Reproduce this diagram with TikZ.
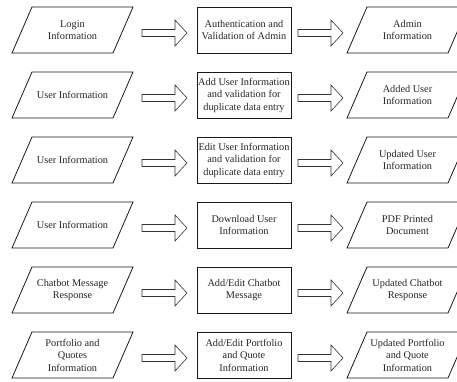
\documentclass[tikz,border=0pt]{standalone}
\usepackage{fontspec}
\setmainfont{Liberation Serif}
\usetikzlibrary{calc}
\tikzset{
  x=1pt, y=-1pt,
  lbl/.style={align=center, font=\fontsize{10.3}{12.5}\selectfont, text=black!85, inner sep=0pt},
  shp/.style={draw=black!90, line width=0.8pt, line join=miter},
  blk/.style={draw=black!80, line width=0.6pt, fill=white, line join=miter},
}
% parallelogram around a named text node: #1 = node name (centre), width 101 top/bottom, height 46, slant 20
\newcommand\paragon[1]{%
  \draw[shp] ($(#1)+(-60.5,23)$) -- ($(#1)+(-40.5,-23)$) -- ($(#1)+(60.5,-23)$) -- ($(#1)+(40.5,23)$) -- cycle;}
\newcommand\rectbox[1]{%
  \draw[shp] ($(#1)+(-47,-23)$) rectangle ($(#1)+(47,23)$);}
% block arrow between coordinates #1 (tail) and #2 (tip)
\newcommand\blockarrow[2]{%
  \draw[blk] ($(#1)+(0,-3.5)$) -- ($(#2)+(-12,-3.5)$) -- ($(#2)+(-12,-13)$) -- (#2)
    -- ($(#2)+(-12,13)$) -- ($(#2)+(-12,3.5)$) -- ($(#1)+(0,3.5)$) -- cycle;}
\begin{document}
\begin{tikzpicture}
\useasboundingbox (0,0) rectangle (457,381);
\clip (0,0) rectangle (457,381);
\fill[white] (0,0) rectangle (457,381);

% row centres: 30, 95, 160, 225, 290, 355
\node[lbl] (a1) at (72.5,30) {Login\\Information};
\node[lbl] (b1) at (244,30) {Authentication and\\Validation of Admin};
\node[lbl] (c1) at (407.5,30) {Admin\\Information};

\node[lbl] (a2) at (72.5,95) {User Information};
\node[lbl] (b2) at (244,95) {Add User Information\\and validation for\\duplicate data entry};
\node[lbl] (c2) at (407.5,95) {Added User\\Information};

\node[lbl] (a3) at (72.5,160) {User Information};
\node[lbl] (b3) at (244,160) {Edit User Information\\and validation for\\duplicate data entry};
\node[lbl] (c3) at (407.5,160) {Updated User\\Information};

\node[lbl] (a4) at (72.5,225) {User Information};
\node[lbl] (b4) at (244,225) {Download User\\Information};
\node[lbl] (c4) at (407.5,225) {PDF Printed\\Document};

\node[lbl] (a5) at (72.5,290) {Chatbot Message\\Response};
\node[lbl] (b5) at (244,290) {Add/Edit Chatbot\\Message};
\node[lbl] (c5) at (407.5,290) {Updated Chatbot\\Response};

\node[lbl] (a6) at (72.5,355) {Portfolio and\\Quotes\\Information};
\node[lbl] (b6) at (244,355) {Add/Edit Portfolio\\and Quote\\Information};
\node[lbl] (c6) at (407.5,355) {Updated Portfolio\\and Quote\\Information};

\foreach \i in {1,...,6}{
  \paragon{a\i}
  \rectbox{b\i}
  \paragon{c\i}
  \coordinate (s\i) at ($(a\i)+(69.5,3)$);
  \coordinate (t\i) at ($(b\i)+(-57,3)$);
  \coordinate (u\i) at ($(b\i)+(54,3)$);
  \coordinate (v\i) at ($(c\i)+(-64.5,3)$);
  \blockarrow{s\i}{t\i}
  \blockarrow{u\i}{v\i}
}
\end{tikzpicture}
\end{document}
